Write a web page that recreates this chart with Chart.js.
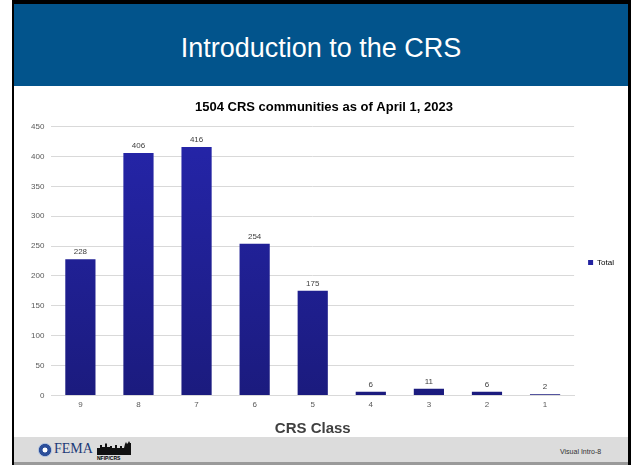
<!DOCTYPE html>
<html>
<head>
<meta charset="utf-8">
<script src="https://cdn.jsdelivr.net/npm/chart.js@4/dist/chart.umd.min.js"></script>
<style>
  html, body { margin: 0; padding: 0; background: #fff; }
  body { width: 632px; height: 465px; position: relative; overflow: hidden; font-family: "Liberation Sans", Arial, sans-serif; }
  #frame { position: absolute; left: 12px; top: 0; width: 619px; height: 465px; border-left: 2px solid #000; border-right: 3px solid #000; border-top: 4px solid #000; box-sizing: border-box; }
  #header { position: absolute; left: 14px; top: 4px; width: 614px; height: 82px; background: #02548c; color: #fff; text-align: center; font-size: 27px; line-height: 88px; }
  #footer { position: absolute; left: 14px; top: 437px; width: 614px; height: 25px; background: #dcdcdc; }
  #footline { position: absolute; left: 14px; top: 462px; width: 614px; height: 3px; background: #9a9a9a; }
  #wrap { position: absolute; left: 14px; top: 88px; width: 614px; height: 349px; }
  #seal { position: absolute; left: 38px; top: 443px; width: 14px; height: 14px; border-radius: 50%; background: radial-gradient(circle, #fff 0 22%, #2c4f9a 28% 58%, #a9bcdc 64%); }
  #fema { position: absolute; left: 54px; top: 441px; font-family: "Liberation Serif", serif; font-size: 14px; color: #1c3a78; }
  #nfip { position: absolute; left: 97px; top: 439px; }
  #nfiptxt { position: absolute; left: 97px; top: 455px; font-size: 5px; font-weight: bold; color: #000; }
  #visual { position: absolute; left: 560px; top: 448px; font-size: 7px; color: #333; }
</style>
</head>
<body>
<div id="frame"></div>
<div id="header">Introduction to the CRS</div>
<div id="wrap"><canvas id="grafico"></canvas></div>
<div id="footer"></div>
<div id="footline"></div>
<div id="seal"></div>
<div id="fema">FEMA</div>
<svg id="nfip" width="34" height="16" viewBox="0 0 34 16">
  <path d="M0 16 L0 9 L3 9 L3 6 L5 6 L5 8 L8 8 L8 5 L9 4 L10 5 L10 8 L13 8 L13 7 L15 7 L15 9 L18 9 L18 6 L20 6 L20 9 L23 9 L23 7 L25 7 L25 9 L27 9 L28 5 L29 3 L30 5 L31 4 L32 2 L33 4 L34 4 L34 16 Z" fill="#111"/>
</svg>
<div id="nfiptxt">NFIP/CRS</div>
<div id="visual">Visual Intro-8</div>
<script>
const classes = ['9', '8', '7', '6', '5', '4', '3', '2', '1'];
const totals = [228, 406, 416, 254, 175, 6, 11, 6, 2];
const yTicks = [0, 50, 100, 150, 200, 250, 300, 350, 400, 450];

const valueLabels = {
    id: 'valueLabels',
    afterDatasetsDraw(chart) {
        const c = chart.ctx;
        const meta = chart.getDatasetMeta(0);
        c.save();
        c.font = '8px "Liberation Sans", Arial, sans-serif';
        c.fillStyle = '#404040';
        c.textAlign = 'center';
        c.textBaseline = 'bottom';
        meta.data.forEach((bar, i) => {
            c.fillText(String(totals[i]), bar.x, bar.y - 3);
        });
        c.restore();
    }
};

function barFill(context) {
    const area = context.chart.chartArea;
    if (!area) return '#20209a';
    const g = context.chart.ctx.createLinearGradient(0, area.top, 0, area.bottom);
    g.addColorStop(0, '#2525aa');
    g.addColorStop(1, '#1b1b7e');
    return g;
}

const ctx = document.getElementById('grafico').getContext('2d');

const grafico = new Chart(ctx, {
    type: 'bar',
    data: {
        labels: classes,
        datasets: [{
            label: 'Total',
            data: totals,
            backgroundColor: barFill,
            borderWidth: 0,
            barPercentage: 0.52,
            categoryPercentage: 1
        }]
    },
    options: {
        responsive: true,
        maintainAspectRatio: false,
        animation: false,
        layout: { padding: { left: 10, right: 4, top: 0, bottom: 0 } },
        plugins: {
            title: {
                display: true,
                text: '1504 CRS communities as of April 1, 2023',
                color: '#000',
                font: { family: '"Liberation Sans", Arial, sans-serif', size: 13, weight: 'bold' },
                padding: { top: 12, bottom: 11 }
            },
            legend: {
                position: 'right',
                labels: {
                    boxWidth: 5,
                    boxHeight: 5,
                    padding: 14,
                    color: '#404040',
                    font: { family: '"Liberation Sans", Arial, sans-serif', size: 8 },
                    generateLabels: () => [{ text: 'Total', fillStyle: '#2222a0', strokeStyle: '#2222a0', lineWidth: 0 }]
                }
            },
            tooltip: { enabled: false }
        },
        scales: {
            x: {
                grid: { display: false, drawTicks: false },
                border: { display: true, color: '#d9d9d9' },
                ticks: { color: '#595959', font: { family: '"Liberation Sans", Arial, sans-serif', size: 8 }, padding: 5 },
                title: {
                    display: true,
                    text: 'CRS Class',
                    color: '#404040',
                    font: { family: '"Liberation Sans", Arial, sans-serif', size: 15, weight: 'bold', lineHeight: 1 },
                    padding: { top: 6, bottom: 1 }
                }
            },
            y: {
                min: 0,
                max: 450,
                afterBuildTicks: (axis) => { axis.ticks = yTicks.map(v => ({ value: v })); },
                grid: { color: '#d9d9d9', drawTicks: false },
                border: { display: false },
                ticks: { color: '#595959', font: { family: '"Liberation Sans", Arial, sans-serif', size: 8 }, padding: 7 }
            }
        }
    },
    plugins: [valueLabels]
});
</script>
</body>
</html>
